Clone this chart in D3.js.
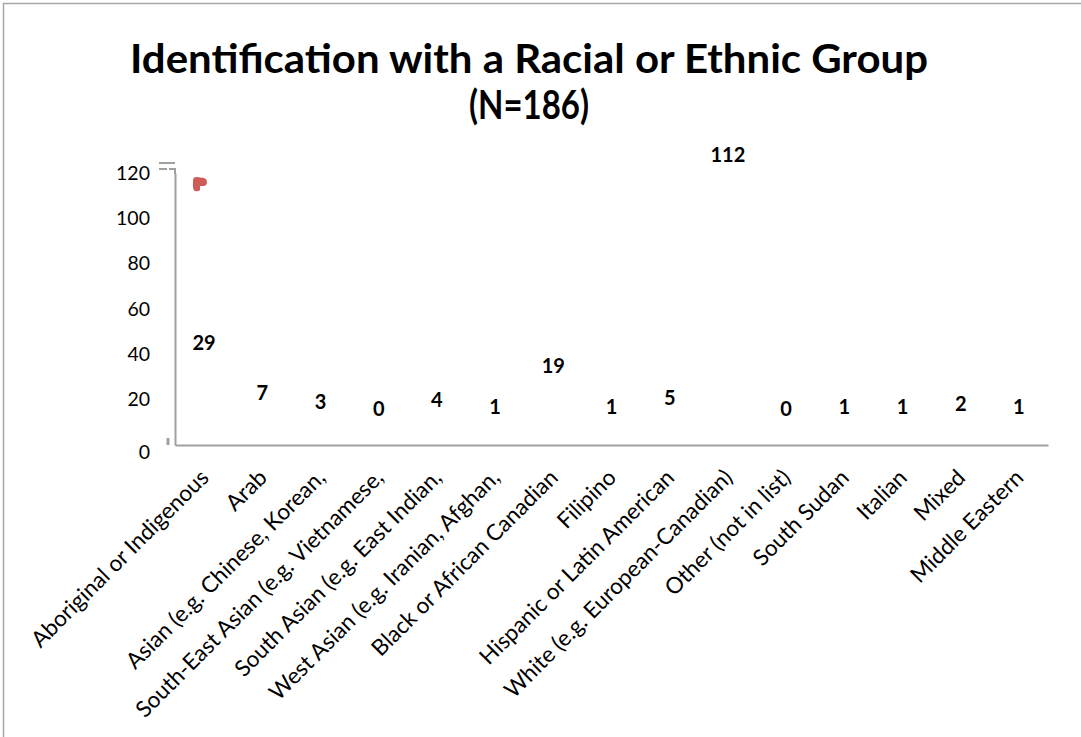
<!DOCTYPE html>
<html>
<head>
<meta charset="utf-8">
<script src="https://cdn.jsdelivr.net/npm/d3@7"></script>
<style>
  body { margin: 0; background: #fff; }
  text { font-family: Lato, "Open Sans", sans-serif; fill: #000; }
</style>
</head>
<body>
<svg id="chart" width="1081" height="737"></svg>
<script>
var categories = [
  "Aboriginal or Indigenous", "Arab", "Asian (e.g. Chinese, Korean,",
  "South-East Asian (e.g. Vietnamese,", "South Asian (e.g. East Indian,",
  "West Asian (e.g. Iranian, Afghan,", "Black or African Canadian", "Filipino",
  "Hispanic or Latin American", "White (e.g. European-Canadian)",
  "Other (not in list)", "South Sudan", "Italian", "Mixed", "Middle Eastern"
];
var counts = [29, 7, 3, 0, 4, 1, 19, 1, 5, 112, 0, 1, 1, 2, 1];
var yTicks = [0, 20, 40, 60, 80, 100, 120];
var titleLines = ["Identification with a Racial or Ethnic Group", "(N=186)"];
var titleWidths = [798, 120];

var svg = d3.select('#chart');
var plotLeft = 175, plotRight = 1048, plotTop = 173, plotBottom = 445;

// outer frame (right/bottom edges fall outside the picture)
svg.append('rect').attr('x', 3.5).attr('y', 3.5)
  .attr('width', 1100).attr('height', 760)
  .attr('fill', 'none').attr('stroke', '#a6a6a6').attr('stroke-width', 1.5);

var x = d3.scaleBand().domain(categories).range([plotLeft, plotRight]);
var y = d3.scaleLinear().domain([0, 120]).range([plotBottom, plotTop]);

// title
svg.append('g').selectAll('text')
  .data(titleLines)
  .join('text')
  .attr('x', 529)
  .attr('y', function(d, i) { return 73 + i * 46; })
  .attr('text-anchor', 'middle')
  .attr('font-weight', 'bold')
  .attr('font-size', 40)
  .attr('textLength', function(d, i) { return titleWidths[i]; })
  .attr('lengthAdjust', 'spacingAndGlyphs')
  .text(function(d) { return d; });

// y axis
var yAxis = svg.append('g').attr('transform', 'translate(' + plotLeft + ',0)')
  .call(d3.axisLeft(y).tickValues(yTicks).tickSize(0).tickPadding(25));
yAxis.select('.domain').attr('stroke', '#a0a0a0').attr('stroke-width', 2);
yAxis.selectAll('text').attr('font-size', 19.5)
  .attr('font-family', 'Lato, sans-serif').attr('fill', '#000')
  .attr('dy', function(d) { return d === 0 ? '0.68em' : '0.32em'; });

// little break marks at the top of the value axis
svg.append('path').attr('d', 'M159,163H175M159,169H167M169,169H175V174')
  .attr('fill', 'none').attr('stroke', '#a0a0a0').attr('stroke-width', 2);
svg.append('path').attr('d', 'M168,438V445')
  .attr('stroke', '#a0a0a0').attr('stroke-width', 3);

// x axis
var xAxis = svg.append('g').attr('transform', 'translate(0,' + plotBottom + ')')
  .call(d3.axisBottom(x).tickSize(0).tickPadding(0));
xAxis.select('.domain').attr('stroke', '#a0a0a0').attr('stroke-width', 2);
xAxis.selectAll('text')
  .attr('font-size', 22.5)
  .attr('font-family', 'Lato, sans-serif').attr('fill', '#000')
  .attr('text-anchor', 'end')
  .attr('dy', 0)
  .attr('transform', 'translate(6,34) rotate(-45)');

// bars have no fill in the original; only the labels show
svg.append('g').selectAll('rect')
  .data(counts)
  .join('rect')
  .attr('x', function(d, i) { return x(categories[i]); })
  .attr('width', x.bandwidth())
  .attr('y', function(d) { return y(d); })
  .attr('height', function(d) { return plotBottom - y(d); })
  .attr('fill', 'none');

svg.append('g').selectAll('text')
  .data(counts)
  .join('text')
  .attr('x', function(d, i) { return x(categories[i]) + x.bandwidth() / 2; })
  .attr('y', function(d) { return y(d) - 36; })
  .attr('dy', '0.35em')
  .attr('text-anchor', 'middle')
  .attr('font-weight', 'bold')
  .attr('font-size', 20)
  .text(function(d) { return d; });

// stray red marker near the top of the first column
svg.append('path')
  .attr('d', 'M193,180 Q193,177 197,177 L204,178 Q207,179 207,182 Q207,186 203,186 L200,186 L200,190 Q198,192 195,191 Q193,190 193,187 Z')
  .attr('fill', '#cd5c57');
</script>
</body>
</html>
